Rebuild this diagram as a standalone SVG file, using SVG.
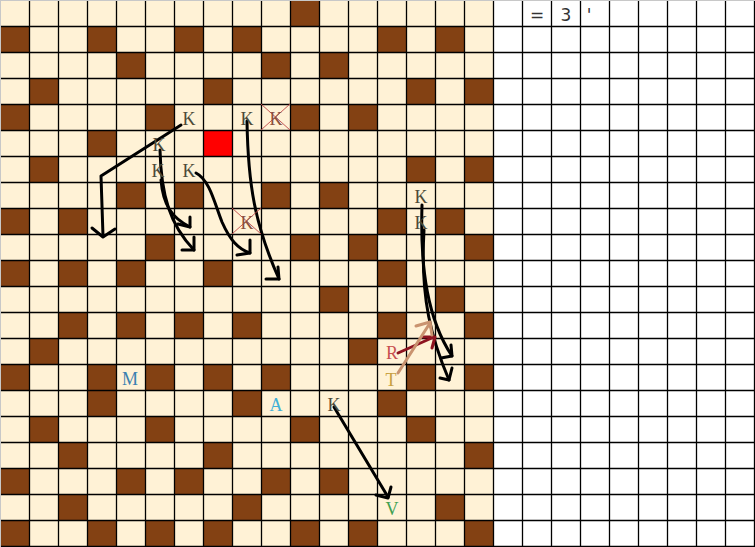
<svg xmlns="http://www.w3.org/2000/svg" width="755" height="547" viewBox="0 0 755 547">
<style>
.b{fill:#834113}
.grid{stroke:#000;stroke-width:1.3;fill:none}
.ink{stroke:#000;stroke-width:3;fill:none;stroke-linecap:round;stroke-linejoin:round}
.t{font-family:"Liberation Serif",serif;font-size:18px;text-anchor:middle}
.k{fill:#4d4a38}
.kx{fill:#8a5040}
.x{stroke:#c04848;stroke-width:0.9}
.s{font-family:"DejaVu Sans","Liberation Sans",sans-serif;font-size:17px;fill:#333;text-anchor:middle}
</style>
<defs>
<rect id="c" width="29" height="26" class="b"/>
</defs>
<g id="board">
<rect x="0" y="0" width="493" height="547" fill="#fff2d6"/>
<rect x="493" y="0" width="262" height="547" fill="#fff"/>
<g id="brown">
<use href="#c" x="290" y="0"/>
<use href="#c" x="0" y="26"/><use href="#c" x="87" y="26"/><use href="#c" x="174" y="26"/><use href="#c" x="232" y="26"/><use href="#c" x="377" y="26"/><use href="#c" x="435" y="26"/>
<use href="#c" x="116" y="52"/><use href="#c" x="261" y="52"/><use href="#c" x="319" y="52"/>
<use href="#c" x="29" y="78"/><use href="#c" x="203" y="78"/><use href="#c" x="406" y="78"/><use href="#c" x="464" y="78"/>
<use href="#c" x="0" y="104"/><use href="#c" x="145" y="104"/><use href="#c" x="290" y="104"/><use href="#c" x="348" y="104"/>
<use href="#c" x="87" y="130"/>
<use href="#c" x="29" y="156"/><use href="#c" x="406" y="156"/><use href="#c" x="464" y="156"/>
<use href="#c" x="116" y="182"/><use href="#c" x="174" y="182"/><use href="#c" x="261" y="182"/><use href="#c" x="319" y="182"/>
<use href="#c" x="0" y="208"/><use href="#c" x="58" y="208"/><use href="#c" x="377" y="208"/><use href="#c" x="435" y="208"/>
<use href="#c" x="145" y="234"/><use href="#c" x="290" y="234"/><use href="#c" x="348" y="234"/><use href="#c" x="464" y="234"/>
<use href="#c" x="0" y="260"/><use href="#c" x="58" y="260"/><use href="#c" x="116" y="260"/><use href="#c" x="203" y="260"/><use href="#c" x="377" y="260"/>
<use href="#c" x="319" y="286"/><use href="#c" x="435" y="286"/>
<use href="#c" x="58" y="312"/><use href="#c" x="116" y="312"/><use href="#c" x="174" y="312"/><use href="#c" x="232" y="312"/><use href="#c" x="377" y="312"/><use href="#c" x="464" y="312"/>
<use href="#c" x="29" y="338"/><use href="#c" x="348" y="338"/>
<use href="#c" x="0" y="364"/><use href="#c" x="87" y="364"/><use href="#c" x="145" y="364"/><use href="#c" x="203" y="364"/><use href="#c" x="261" y="364"/><use href="#c" x="406" y="364"/><use href="#c" x="464" y="364"/>
<use href="#c" x="87" y="390"/><use href="#c" x="232" y="390"/><use href="#c" x="377" y="390"/>
<use href="#c" x="29" y="416"/><use href="#c" x="145" y="416"/><use href="#c" x="290" y="416"/><use href="#c" x="406" y="416"/>
<use href="#c" x="58" y="442"/><use href="#c" x="203" y="442"/><use href="#c" x="464" y="442"/>
<use href="#c" x="0" y="468"/><use href="#c" x="116" y="468"/><use href="#c" x="174" y="468"/><use href="#c" x="261" y="468"/><use href="#c" x="319" y="468"/>
<use href="#c" x="58" y="494"/><use href="#c" x="232" y="494"/><use href="#c" x="435" y="494"/>
<use href="#c" x="0" y="520"/><use href="#c" x="87" y="520"/><use href="#c" x="145" y="520"/><use href="#c" x="203" y="520"/><use href="#c" x="290" y="520"/><use href="#c" x="348" y="520"/><use href="#c" x="464" y="520"/>
</g>
<rect id="red" x="203" y="130" width="29" height="26" fill="#ff0000"/>
<path class="grid" d="M29.5,0V547M58.5,0V547M87.5,0V547M116.5,0V547M145.5,0V547M174.5,0V547M203.5,0V547M232.5,0V547M261.5,0V547M290.5,0V547M319.5,0V547M348.5,0V547M377.5,0V547M406.5,0V547M435.5,0V547M464.5,0V547M493.5,0V547M522.5,0V547M551.5,0V547M580.5,0V547M609.5,0V547M638.5,0V547M667.5,0V547M696.5,0V547M725.5,0V547M754.5,0V547M0,26.5H755M0,52.5H755M0,78.5H755M0,104.5H755M0,130.5H755M0,156.5H755M0,182.5H755M0,208.5H755M0,234.5H755M0,260.5H755M0,286.5H755M0,312.5H755M0,338.5H755M0,364.5H755M0,390.5H755M0,416.5H755M0,442.5H755M0,468.5H755M0,494.5H755M0,520.5H755M0,546.5H755"/>
<path d="M0,0.5H755M0.5,0V547" stroke="#c8c8c8" stroke-width="1" fill="none"/>
</g>
<g id="header">
<text class="s" x="537" y="21">=</text>
<text class="s" x="566" y="21">3</text>
<text class="s" x="589" y="21">'</text>
</g>
<g id="connectors">
<g id="arrow1"><path class="ink" d="M181,125 L101,176 L103,236"/><path class="ink" d="M92,228 L103,237 L115,229"/></g>
<g id="arrow2"><path class="ink" d="M160,150 C161,195 170,225 194,250"/><path class="ink" d="M182,250 L194,250 L194,237"/></g>
<g id="arrow3"><path class="ink" d="M161,180 C163,205 172,218 190,227"/><path class="ink" d="M178,224 L190,227 L190,217"/></g>
<g id="arrow4"><path class="ink" d="M196,173 C210,180 215,205 222,222 C230,240 238,249 250,253"/><path class="ink" d="M237,255 L250,253 L250,240"/></g>
<g id="arrow5"><path class="ink" d="M247,121 C248,185 255,225 279,279"/><path class="ink" d="M266,279 L279,279 L278,267"/></g>
<g id="arrow6"><path class="ink" d="M422,205 C420,270 428,320 452,356"/><path class="ink" d="M441,358 L452,356 L451,345"/></g>
<g id="arrow7"><path class="ink" d="M424,230 C420,300 432,340 449,380"/><path class="ink" d="M440,378 L449,380 L452,368"/></g>
<g id="arrow8"><path d="M398,353 L434,337" stroke="#8e1420" stroke-width="3" fill="none" stroke-linecap="round"/><path d="M423,337 L435,337 L432,348" stroke="#8e1420" stroke-width="3" fill="none" stroke-linecap="round" stroke-linejoin="round"/></g>
<g id="arrow9"><path d="M398,373 L430,323" stroke="#c9936f" stroke-width="3" fill="none" stroke-linecap="round"/><path d="M416,326 L430,322 L432,335" stroke="#c9936f" stroke-width="3" fill="none" stroke-linecap="round" stroke-linejoin="round"/></g>
<g id="arrow10"><path class="ink" d="M334,407 L388,497"/><path class="ink" d="M376,495 L388,498 L391,487"/></g>
</g>
<g id="n1"><text class="t k" x="189" y="125">K</text></g>
<g id="n2"><text class="t k" x="247" y="125">K</text></g>
<g id="n3"><path class="x" d="M261,104L290,130M290,104L261,130"/><text class="t kx" x="276" y="125">K</text></g>
<g id="n4"><text class="t k" x="159" y="151">K</text></g>
<g id="n5"><text class="t k" x="158" y="177">K</text></g>
<g id="n6"><text class="t k" x="189" y="177">K</text></g>
<g id="n7"><path class="x" d="M232,208L261,234M261,208L232,234"/><text class="t kx" x="247" y="229">K</text></g>
<g id="n8"><text class="t k" x="421" y="203">K</text></g>
<g id="n9"><text class="t k" x="421" y="229">K</text></g>
<g id="n10"><text class="t" x="392" y="359" fill="#c85050">R</text></g>
<g id="n11"><text class="t" x="391" y="386" fill="#c8a040">T</text></g>
<g id="n12"><text class="t" x="130" y="385" fill="#3a80b0">M</text></g>
<g id="n13"><text class="t" x="276" y="411" fill="#40b0d8">A</text></g>
<g id="n14"><text class="t k" x="334" y="411">K</text></g>
<g id="n15"><text class="t" x="392" y="515" fill="#40a050">V</text></g>
</svg>
